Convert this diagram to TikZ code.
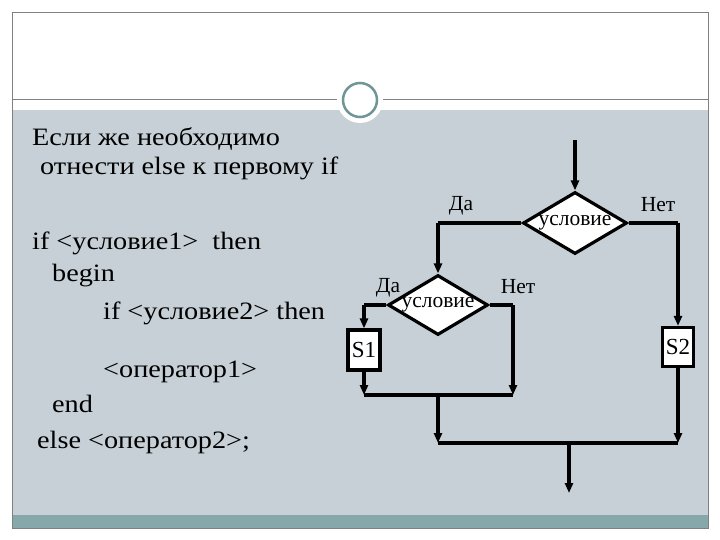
\documentclass[tikz,border=0pt]{standalone}
\usepackage{fontspec}
\setmainfont{Liberation Serif}
\newfontfamily\widefont[FakeStretch=1.13]{Liberation Serif}
\usetikzlibrary{shapes.geometric,arrows.meta}
\begin{document}
\begin{tikzpicture}[x=1pt,y=-1pt,
 ln/.style={line width=3.2pt},
 ar/.style={line width=3.2pt,-{Triangle[length=10pt,width=8pt]}},
 dia/.style={diamond,draw,line width=3.2pt,fill=white,shape aspect=1.7,minimum width=104pt,minimum height=62pt,inner sep=-4pt,font=\fontsize{21.5}{21.5}\selectfont},
 sdia/.style={dia,minimum width=100pt,minimum height=60pt},
 box/.style={draw,line width=3.2pt,fill=white,inner sep=2pt,font=\fontsize{23}{23}\selectfont},
 lab/.style={font=\fontsize{21.5}{21.5}\selectfont,inner sep=0pt},
 txt/.style={font=\widefont\fontsize{25}{25}\selectfont,anchor=base west,inner sep=0pt}]
\useasboundingbox (0,0) rectangle (720,540);
\fill[white] (0,0) rectangle (720,540);
\fill[fill={rgb,255:red,198;green,208;blue,214}] (12,110) rectangle (708,515);
\fill[fill={rgb,255:red,134;green,168;blue,170}] (12,515) rectangle (708,528);
\draw[gray,line width=0.8pt] (12,12) rectangle (708,528);
\draw[gray,line width=1pt] (12,100) -- (708,100);
\node[circle,fill=white,minimum size=46pt] (cw) at (360,100) {};
\node[circle,draw={rgb,255:red,110;green,150;blue,150},line width=2.5pt,fill=white,minimum size=34pt] (cr) at (360,100) {};
% left text
\node[txt] (t1) at (32,146) {Если же необходимо};
\node[txt] (t2) at (40,175) {отнести else к первому if};
\node[txt] (t3) at (32,249) {if <условие1> \ then};
\node[txt] (t4) at (52,281) {begin};
\node[txt] (t5) at (103,319) {if <условие2> then};
\node[txt] (t6) at (103,377) {<оператор1>};
\node[txt] (t7) at (52,412) {end};
\node[txt] (t8) at (37,448) {else <оператор2>;};
% flowchart
\coordinate (top) at (575,140);
\node[dia] (d1) at (575,223) {условие};
\node[sdia] (d2) at (438,305) {условие};
\node[box,minimum width=32pt,minimum height=40pt] (s1) at (364,350) {S1};
\node[box,minimum width=31pt,minimum height=39pt] (s2) at (678,347) {S2};
\coordinate (a1) at (438,223);
\coordinate (a2) at (678,223);
\coordinate (b1) at (364,305);
\coordinate (b2) at (513,305);
\coordinate (m1) at (364,395);
\coordinate (m2) at (513,395);
\coordinate (m3) at (438,395);
\coordinate (n1) at (438,443);
\coordinate (n2) at (678,443);
\coordinate (n3) at (569,443);
\coordinate (out) at (569,493);
\draw[ar] (top) -- (d1.north);
\draw[ln] (d1.west) -- (a1);
\draw[ar] (a1) -- (d2.north);
\draw[ln] (d1.east) -- (a2);
\draw[ar] (a2) -- (s2.north);
\draw[ln] (d2.west) -- (b1);
\draw[ar] (b1) -- (s1.north);
\draw[ln] (d2.east) -- (b2);
\draw[ar] (b2) -- (m2);
\draw[ar] (s1.south) -- (m1);
\draw[ln] (m1) -- (m2);
\draw[ar] (m3) -- (n1);
\draw[ln] (n1) -- (n2);
\draw[ar] (s2.south) -- (n2);
\draw[ar] (n3) -- (out);
\node[lab] (l1) at (461,206) {Да};
\node[lab] (l2) at (658,205) {Нет};
\node[lab] (l3) at (388,288) {Да};
\node[lab] (l4) at (518,287) {Нет};
\end{tikzpicture}
\end{document}
